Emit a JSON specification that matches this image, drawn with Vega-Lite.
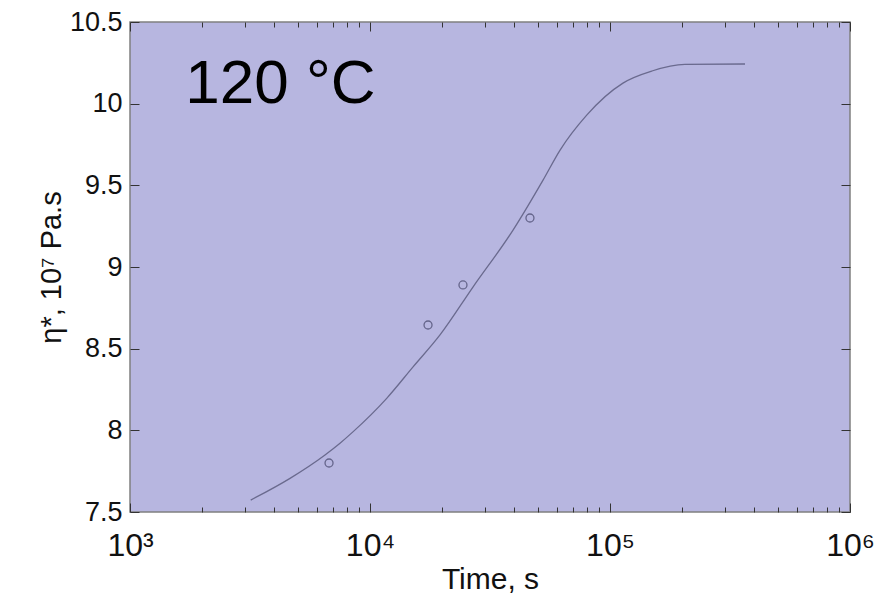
{
  "$schema": "https://vega.github.io/schema/vega-lite/v6.json",
  "width": 720,
  "height": 490,
  "autosize": {"type": "none"},
  "padding": {"left": 130, "top": 22, "right": 36, "bottom": 83},
  "background": "white",
  "config": {
    "view": {"fill": "#b7b6e0", "stroke": "#808080", "strokeWidth": 1.5},
    "font": "Liberation Sans"
  },
  "datasets": {
    "curve": [
      {"t": 3184, "eta": 7.573},
      {"t": 4642, "eta": 7.706},
      {"t": 6494, "eta": 7.849},
      {"t": 7499, "eta": 7.921},
      {"t": 8511, "eta": 7.992},
      {"t": 11738, "eta": 8.196},
      {"t": 15146, "eta": 8.39},
      {"t": 19573, "eta": 8.584},
      {"t": 26853, "eta": 8.877},
      {"t": 39446, "eta": 9.226},
      {"t": 52600, "eta": 9.532},
      {"t": 61944, "eta": 9.716},
      {"t": 79983, "eta": 9.93},
      {"t": 113240, "eta": 10.126},
      {"t": 149600, "eta": 10.2},
      {"t": 205300, "eta": 10.24},
      {"t": 365200, "eta": 10.243}
    ],
    "points": [
      {"t": 6750, "eta": 7.8},
      {"t": 17450, "eta": 8.645},
      {"t": 24400, "eta": 8.89},
      {"t": 46400, "eta": 9.3}
    ],
    "label": [
      {"t": 1700, "eta": 10.004, "text": "120 °C"}
    ],
    "empty": []
  },
  "layer": [
    {
      "data": {"name": "curve"},
      "mark": {"type": "line", "color": "#6a6a8e", "strokeWidth": 1.3, "interpolate": "monotone"},
      "encoding": {
        "x": {
          "field": "t", "type": "quantitative",
          "scale": {"type": "log", "domain": [1000, 1000000], "nice": false},
          "axis": {
            "orient": "bottom",
            "offset": -9,
            "values": [1000, 10000, 100000, 1000000],
            "labelExpr": "datum.value==1000?'10³':datum.value==10000?'10⁴':datum.value==100000?'10⁵':'10⁶'",
            "labelOverlap": false,
            "labelFlush": false,
            "labelFontSize": 32,
            "labelColor": "#111",
            "labelPadding": 18,
            "tickSize": 9,
            "tickColor": "#333",
            "domain": false,
            "grid": false,
            "title": "Time, s",
            "titleFontSize": 30,
            "titleFontWeight": "normal",
            "titleColor": "#111",
            "titlePadding": 3
          }
        },
        "y": {
          "field": "eta", "type": "quantitative",
          "scale": {"domain": [7.5, 10.5], "nice": false, "zero": false},
          "axis": {
            "orient": "left",
            "offset": -9,
            "values": [7.5, 8, 8.5, 9, 9.5, 10, 10.5],
            "format": "~g",
            "labelFontSize": 27,
            "labelColor": "#111",
            "labelPadding": 8,
            "tickSize": 9,
            "tickColor": "#333",
            "domain": false,
            "grid": false,
            "title": "η*, 10⁷ Pa.s",
            "titleFontSize": 29,
            "titleFontWeight": "normal",
            "titleColor": "#111",
            "titlePadding": 3
          }
        }
      }
    },
    {
      "data": {"name": "points"},
      "mark": {"type": "point", "shape": "circle", "filled": false, "stroke": "#64648a", "strokeWidth": 1.3, "size": 64, "opacity": 1},
      "encoding": {
        "x": {
          "field": "t", "type": "quantitative",
          "axis": {
            "orient": "top",
            "offset": -9,
            "values": [1000, 10000, 100000, 1000000],
            "labels": false,
            "tickSize": 9,
            "tickColor": "#333",
            "domain": false,
            "grid": false,
            "title": null
          }
        },
        "y": {
          "field": "eta", "type": "quantitative",
          "axis": {
            "orient": "right",
            "offset": -9,
            "values": [7.5, 8, 8.5, 9, 9.5, 10, 10.5],
            "labels": false,
            "tickSize": 9,
            "tickColor": "#333",
            "domain": false,
            "grid": false,
            "title": null
          }
        }
      }
    },
    {
      "data": {"name": "label"},
      "mark": {"type": "text", "align": "left", "baseline": "alphabetic", "fontSize": 62, "color": "#000", "font": "Liberation Sans"},
      "encoding": {
        "x": {
          "field": "t", "type": "quantitative",
          "axis": {
            "orient": "bottom",
            "offset": -5,
            "values": [2000, 3000, 4000, 5000, 6000, 7000, 8000, 9000, 20000, 30000, 40000, 50000, 60000, 70000, 80000, 90000, 200000, 300000, 400000, 500000, 600000, 700000, 800000, 900000],
            "labels": false,
            "tickSize": 5,
            "tickColor": "#333",
            "domain": false,
            "grid": false,
            "title": null
          }
        },
        "y": {"field": "eta", "type": "quantitative", "axis": null},
        "text": {"field": "text"}
      }
    },
    {
      "data": {"name": "empty"},
      "mark": {"type": "point"},
      "encoding": {
        "x": {
          "field": "t", "type": "quantitative",
          "axis": {
            "orient": "top",
            "offset": -5,
            "values": [2000, 3000, 4000, 5000, 6000, 7000, 8000, 9000, 20000, 30000, 40000, 50000, 60000, 70000, 80000, 90000, 200000, 300000, 400000, 500000, 600000, 700000, 800000, 900000],
            "labels": false,
            "tickSize": 5,
            "tickColor": "#333",
            "domain": false,
            "grid": false,
            "title": null
          }
        },
        "y": {"field": "eta", "type": "quantitative", "axis": null}
      }
    }
  ],
  "resolve": {"axis": {"x": "independent", "y": "independent"}}
}
